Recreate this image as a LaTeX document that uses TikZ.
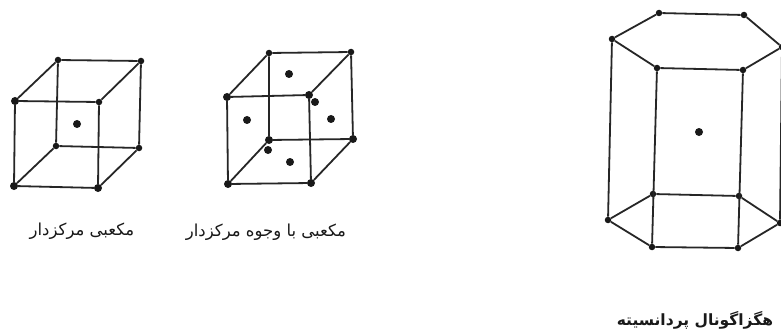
\documentclass[tikz,border=0pt]{standalone}
\usepackage{fontspec}
\TeXXeTstate=1
\newfontfamily\arabicfont[Script=Arabic]{DejaVu Sans}
\tikzset{
  vtx/.style={circle,fill=black!90,inner sep=0pt,minimum size=6.5pt},
  vtxbig/.style={circle,fill=black!90,inner sep=0pt,minimum size=8pt},
  atom/.style={circle,fill=black!90,inner sep=0pt,minimum size=8pt},
  edge/.style={line width=1.8pt,black!85},
  lab/.style={inner sep=0pt,font=\arabicfont\fontsize{16.5pt}{18pt}\selectfont,text=black!90}
}
\begin{document}
\begin{tikzpicture}[x=1pt,y=-1pt]
\useasboundingbox (0,0) rectangle (781,334);
\fill[white] (0,0) rectangle (781,334);
% body-centred cube
\node[vtx] (a1) at (58,60) {};
\node[vtx] (a2) at (141,61) {};
\node[vtxbig] (a3) at (15,101) {};
\node[vtx] (a4) at (99,102) {};
\node[vtx] (a5) at (56,146) {};
\node[vtx] (a6) at (139,148) {};
\node[vtxbig] (a7) at (14,186) {};
\node[vtxbig] (a8) at (98,188) {};
\node[atom] (ac) at (77,124) {};
\draw[edge] (a1)--(a2) (a3)--(a4) (a5)--(a6) (a7)--(a8)
  (a1)--(a3) (a2)--(a4) (a5)--(a7) (a6)--(a8)
  (a1)--(a5) (a2)--(a6) (a3)--(a7) (a4)--(a8);
% face-centred cube
\node[vtx] (b1) at (269,53) {};
\node[vtx] (b2) at (351,52) {};
\node[vtxbig] (b3) at (227,97) {};
\node[vtxbig] (b4) at (309,95) {};
\node[vtxbig] (b5) at (269,140) {};
\node[vtxbig] (b6) at (353,139) {};
\node[vtxbig] (b7) at (228,184) {};
\node[vtxbig] (b8) at (311,183) {};
\node[atom] (f1) at (289,74) {};
\node[atom] (f2) at (247,120) {};
\node[atom] (f3) at (331,119) {};
\node[atom] (f4) at (290,162) {};
\node[atom] (f5) at (315,102) {};
\node[atom] (f6) at (268,150) {};
\draw[edge] (b1)--(b2) (b3)--(b4) (b5)--(b6) (b7)--(b8)
  (b1)--(b3) (b2)--(b4) (b5)--(b7) (b6)--(b8)
  (b1)--(b5) (b2)--(b6) (b3)--(b7) (b4)--(b8);
% hexagonal close-packed
\node[vtx] (h1) at (659,13) {};
\node[vtx] (h2) at (744,15) {};
\node[vtx] (h3) at (782,47) {};
\node[vtx] (h4) at (743,70) {};
\node[vtx] (h5) at (657,68) {};
\node[vtx] (h6) at (612,39) {};
\node[vtx] (g1) at (653,194) {};
\node[vtx] (g2) at (739,196) {};
\node[vtx] (g3) at (780,223) {};
\node[vtx] (g4) at (738,248) {};
\node[vtx] (g5) at (652,247) {};
\node[vtx] (g6) at (608,220) {};
\node[atom] (hc) at (699,132) {};
\draw[edge] (h1)--(h2)--(h3)--(h4)--(h5)--(h6)--(h1)
  (g1)--(g2)--(g3)--(g4)--(g5)--(g6)--(g1)
  (h3)--(g3) (h4)--(g4) (h5)--(g5) (h6)--(g6);
% labels
\node[lab] (l1) at (82,231) {\beginR مکعبی مرکزدار\endR};
\node[lab] (l2) at (266,232) {\beginR مکعبی با وجوه مرکزدار\endR};
\node[lab,font=\arabicfont\bfseries\fontsize{15.5pt}{18pt}\selectfont] (l3) at (695,320) {\beginR هگزاگونال پردانسیته\endR};
\end{tikzpicture}
\end{document}
